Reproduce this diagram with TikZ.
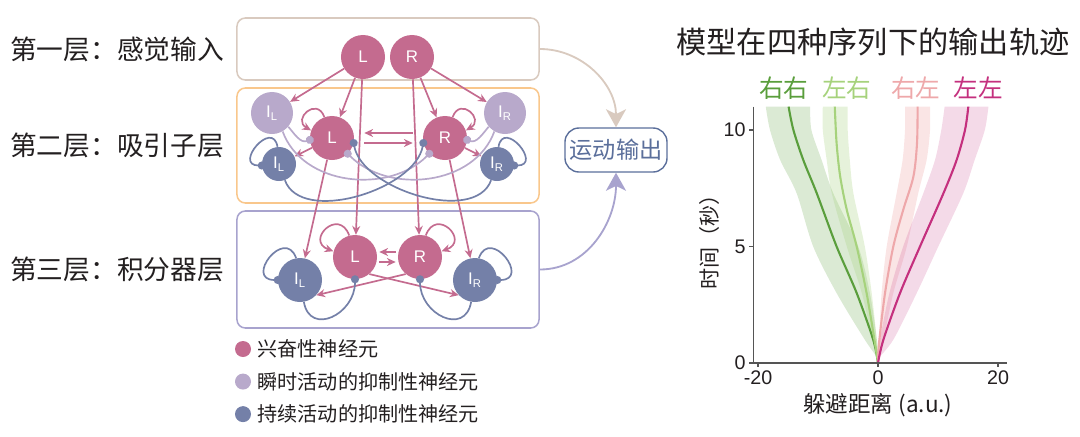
\documentclass[tikz,border=0pt]{standalone}
\usepackage{fontspec}
\setmainfont{Liberation Sans}
\newfontfamily\cjk{Noto Sans CJK SC}
\usepackage{tikz}
\usetikzlibrary{arrows.meta, positioning, calc}
\definecolor{excPink}{HTML}{C46B8F}
\definecolor{inhLight}{HTML}{B8A9CB}
\definecolor{inhDark}{HTML}{7480A8}
\definecolor{boxTan}{HTML}{D9CABF}
\definecolor{boxOrange}{HTML}{F9C78C}
\definecolor{boxPurple}{HTML}{A8A3CE}
\definecolor{outBlue}{HTML}{5B6F9B}
\definecolor{textDark}{HTML}{231F20}
\definecolor{axisGray}{HTML}{555555}
\definecolor{rrGreen}{HTML}{5A9E3C}
\definecolor{lrGreen}{HTML}{A6D27C}
\definecolor{rlPink}{HTML}{EEA8AA}
\definecolor{llMagenta}{HTML}{C4307E}
\tikzset{
	layerbox/.style={rectangle, rounded corners=6pt, line width=1.1pt, minimum width=7.55cm},
	layerlabel/.style={inner sep=0pt, text=textDark, font=\cjk\fontsize{19}{19}\selectfont},
	excit/.style={circle, fill=excPink, minimum size=1.1cm, inner sep=0pt, text=white, font=\fontsize{12}{12}\selectfont},
	fastinh/.style={excit, fill=inhLight, minimum size=1.05cm},
	slowinh/.style={excit, fill=inhDark, minimum size=0.85cm},
	excarrow/.style={line width=1.2pt, excPink, -{Stealth[length=2.2mm, width=2mm]}},
	inhib/.style={line width=1.2pt, -{Circle[length=2mm]}, shorten >=-1mm},
	outbox/.style={rectangle, rounded corners=0.35cm, draw=outBlue, line width=1pt, text=outBlue, minimum width=2.55cm, minimum height=1.1cm, inner sep=2pt, font=\cjk\fontsize{16.5}{16.5}\selectfont},
	outarrow/.style={line width=1.3pt, -{Stealth[length=4.5mm, width=5mm, inset=1.2mm]}},
	legdot/.style={circle, minimum size=0.4cm, inner sep=0pt},
	legtext/.style={inner sep=0pt, text=textDark, font=\cjk\fontsize{14.3}{14.3}\selectfont},
	ticklabel/.style={inner sep=2pt, text=textDark, font=\fontsize{14}{14}\selectfont},
	meanline/.style={line width=1.5pt}
}
\begin{document}
\begin{tikzpicture}[x=0.025cm, y=0.025cm]
	\useasboundingbox (0,0) rectangle (1080,-436);
	% 三层
	\node (layer1) [layerbox, draw=boxTan, minimum height=1.55cm] at (388,-49) {};
	\node (layer2) [layerbox, draw=boxOrange, minimum height=2.875cm] at (388,-145.5) {};
	\node (layer3) [layerbox, draw=boxPurple, minimum height=2.925cm] at (388,-269.5) {};
	\node (lab1) [layerlabel, left=0.3cm of layer1] {第一层：感觉输入};
	\node (lab2) [layerlabel, left=0.3cm of layer2] {第二层：吸引子层};
	\node (lab3) [layerlabel, left=0.3cm of layer3] {第三层：积分器层};
	
	% 神经元
	\node (senL) [excit] at (363,-57) {L};
	\node (senR) [excit] at (412,-57) {R};
	\node (fastL) [fastinh] at (272,-113) {I\textsubscript{L}};
	\node (fastR) [fastinh] at (505,-113) {I\textsubscript{R}};
	\node (attL) [excit] at (332,-138) {L};
	\node (attR) [excit] at (445,-138) {R};
	\node (slowL) [slowinh] at (279,-164) {I\textsubscript{L}};
	\node (slowR) [slowinh] at (497,-164) {I\textsubscript{R}};
	\node (intL) [excit] at (355,-257) {L};
	\node (intR) [excit] at (420,-257) {R};
	\node (intIL) [slowinh, minimum size=1.1cm] at (300,-280) {I\textsubscript{L}};
	\node (intIR) [slowinh, minimum size=1.1cm] at (475,-280) {I\textsubscript{R}};
	\node (motor) [outbox] at (616,-150) {运动输出};
	
	% 兴奋连接
	\draw [excarrow] (senL) -- (fastL);
	\draw [excarrow] (senL) -- (attL);
	\draw [excarrow] (senL) -- (intL);
	\draw [excarrow] (senR) -- (fastR);
	\draw [excarrow] (senR) -- (attR);
	\draw [excarrow] (senR) -- (intR);
	\draw [excarrow] (attL) -- (slowL);
	\draw [excarrow] (attR) -- (slowR);
	\draw [excarrow] (attL) -- (intIL);
	\draw [excarrow] (attR) -- (intIR);
	\draw [excarrow, shorten <=0.25cm, shorten >=0.25cm] ([yshift=0.125cm]attR.west) -- ([yshift=0.125cm]attL.east);
	\draw [excarrow, shorten <=0.25cm, shorten >=0.25cm] ([yshift=-0.125cm]attL.east) -- ([yshift=-0.125cm]attR.west);
	\draw [excarrow] (attL.110) to[out=110, in=150, looseness=3] (attL.160);
	\draw [excarrow] (attR.70) to[out=70, in=30, looseness=3] (attR.20);
	\draw [excarrow, shorten <=0.05cm, shorten >=0.05cm] ([yshift=0.125cm]intR.west) -- ([yshift=0.125cm]intL.east);
	\draw [excarrow, shorten <=0.05cm, shorten >=0.05cm] ([yshift=-0.125cm]intL.east) -- ([yshift=-0.125cm]intR.west);
	\draw [excarrow] (intL.105) to[out=110, in=160, looseness=3.5] (intL.165);
	\draw [excarrow] (intR.75) to[out=70, in=20, looseness=3.5] (intR.15);
	\draw [excarrow] (intL.-50) -- (intIR.223);
	\draw [excarrow] (intR.230) -- (intIL.-43);
	
	% 抑制连接
	\draw [inhib, inhLight] (fastL.-40) to[out=-50, in=200] (attL.185);
	\draw [inhib, inhLight] (fastL.-60) to[out=-70, in=-135] (attR.-135);
	\draw [inhib, inhLight] (fastR.220) to[out=230, in=-20] (attR.-5);
	\draw [inhib, inhLight] (fastR.240) to[out=250, in=-45] (attL.-45);
	\draw [inhib, inhDark] (slowL.95) to[out=100, in=180, looseness=3] (slowL.185);
	\draw [inhib, inhDark] (slowR.85) to[out=80, in=0, looseness=3] (slowR.-5);
	\draw [inhib, inhDark] (slowL.-70) to[out=-70, in=-100, looseness=0.85] (attR.193);
	\draw [inhib, inhDark] (slowR.250) to[out=-110, in=-80, looseness=0.85] (attL.-13);
	\draw [inhib, inhDark] (intIL.100) to[out=110, in=180, looseness=3] (intIL.180);
	\draw [inhib, inhDark] (intIR.80) to[out=70, in=0, looseness=3] (intIR.0);
	\draw [inhib, inhDark] (intIL.-80) to[out=-80, in=-90, looseness=1.6] (intL.-90);
	\draw [inhib, inhDark] (intIR.-100) to[out=-100, in=-90, looseness=1.6] (intR.-90);
	
	% 输出
	\draw [outarrow, boxTan] (layer1.east) to[out=0, in=90] (motor.north);
	\draw [outarrow, boxPurple] (layer3.east) to[out=0, in=-90] (motor.south);
	
	% 图例
	\node (leg1) [legdot, fill=excPink] at (243,-349) {};
	\node (leg2) [legdot, fill=inhLight, below=0.4cm of leg1] {};
	\node (leg3) [legdot, fill=inhDark, below=0.4cm of leg2] {};
	\node (legtxt1) [legtext, right=0.15cm of leg1] {兴奋性神经元};
	\node (legtxt2) [legtext, right=0.15cm of leg2] {瞬时活动的抑制性神经元};
	\node (legtxt3) [legtext, right=0.15cm of leg3] {持续活动的抑制性神经元};
	
	% 轨迹图
	\node (title) [text=textDark, font=\cjk\fontsize{21.5}{21.5}\selectfont] at (873,-42) {模型在四种序列下的输出轨迹};
	\begin{scope}[shift={(878,-363)}, x=0.15cm, y=0.5825cm]
		\fill [rrGreen, fill opacity=0.22] plot[smooth] coordinates {(0,0.2) (-2.2,1) (-6.9,3) (-10.8,5) (-13.55,7.28) (-16.3,8.71) (-18,10) (-18.7,11)} -- plot[smooth] coordinates {(-11.3,11) (-11.1,10) (-9.4,8.71) (-7.45,7.28) (-3.3,5) (-1.35,3) (-0.2,1) (0,0.2)} -- cycle;
		\fill [lrGreen, fill opacity=0.28] plot[smooth] coordinates {(0,0.2) (-0.9,1) (-2.7,3) (-5.2,5) (-7.7,7.28) (-8.55,8.71) (-9.2,10) (-9.2,11)} -- plot[smooth] coordinates {(-5.05,11) (-5.05,10) (-4.7,8.71) (-4.1,7.28) (-2.2,5) (-1.05,3) (-0.2,1) (0,0.2)} -- cycle;
		\fill [rlPink, fill opacity=0.3] plot[smooth] coordinates {(0,0.2) (0.17,1) (0.6,3) (1.45,5) (3.1,7.28) (4.1,8.71) (4.5,10) (4.5,11)} -- plot[smooth] coordinates {(8.67,11) (8.67,10) (8.1,8.71) (6.7,7.28) (4.8,5) (2.55,3) (0.9,1) (0,0.2)} -- cycle;
		\fill [llMagenta, fill opacity=0.18] plot[smooth] coordinates {(0,0.2) (0.33,1) (1.9,3) (4.2,5) (7.55,7.28) (9.5,8.71) (10.55,10) (11.1,11)} -- plot[smooth] coordinates {(18.4,11) (17.8,10) (16.1,8.71) (14.2,7.28) (10.05,5) (6.45,3) (2.55,1) (0,0.2)} -- cycle;
		\draw [meanline, rrGreen] plot[smooth] coordinates {(0,0) (-0.8,1) (-3.55,3) (-6.9,5) (-10.2,7.28) (-12.45,8.71) (-14.1,10) (-14.9,11)};
		\draw [meanline, lrGreen] plot[smooth] coordinates {(0,0) (-0.5,0.85) (-1.9,3) (-3.55,5) (-5.2,6.57) (-6.3,8) (-6.9,9.43) (-7.2,11)};
		\draw [meanline, rlPink] plot[smooth] coordinates {(0,0) (0.17,0.85) (1.17,3) (2.55,5) (4.2,6.57) (5.9,8) (6.5,9.43) (6.6,11)};
		\draw [meanline, llMagenta] plot[smooth] coordinates {(0,0) (0.9,1) (3.67,3) (7.0,5) (10.9,7.28) (13.1,8.71) (14.5,10) (15.05,11)};
		% 坐标轴
		\draw [axisGray, line width=0.8pt] (-20.8,11) -- (-20.8,0) -- (21.5,0);
		\foreach \x in {-20,0,20}
			\draw [axisGray, line width=0.8pt] (\x,0) -- (\x,-0.17) node (tx\x) [ticklabel, below] {\x};
		\foreach \y in {0,5,10}
			\draw [axisGray, line width=0.8pt] (-20.8,\y) -- (-21.5,\y) node (ty\y) [ticklabel, left] {\y};
		\node (xlab) [text=textDark, font=\cjk\fontsize{16}{16}\selectfont] at (0,-1.8) {躲避距离 (a.u.)};
		\node (ylab) [text=textDark, font=\cjk\fontsize{15}{15}\selectfont, rotate=90] at (-28,5.4) {时间（秒）};
		% 序列
		\node (seqRR) [text=rrGreen, font=\cjk\fontsize{17.5}{17.5}\selectfont] at (-15.7,11.8) {右右};
		\node (seqLR) [text=lrGreen, font=\cjk\fontsize{17.5}{17.5}\selectfont] at (-5.2,11.8) {左右};
		\node (seqRL) [text=rlPink, font=\cjk\fontsize{17.5}{17.5}\selectfont] at (6.3,11.8) {右左};
		\node (seqLL) [text=llMagenta, font=\cjk\fontsize{17.5}{17.5}\selectfont] at (16.7,11.8) {左左};
	\end{scope}
\end{tikzpicture}
\end{document}
